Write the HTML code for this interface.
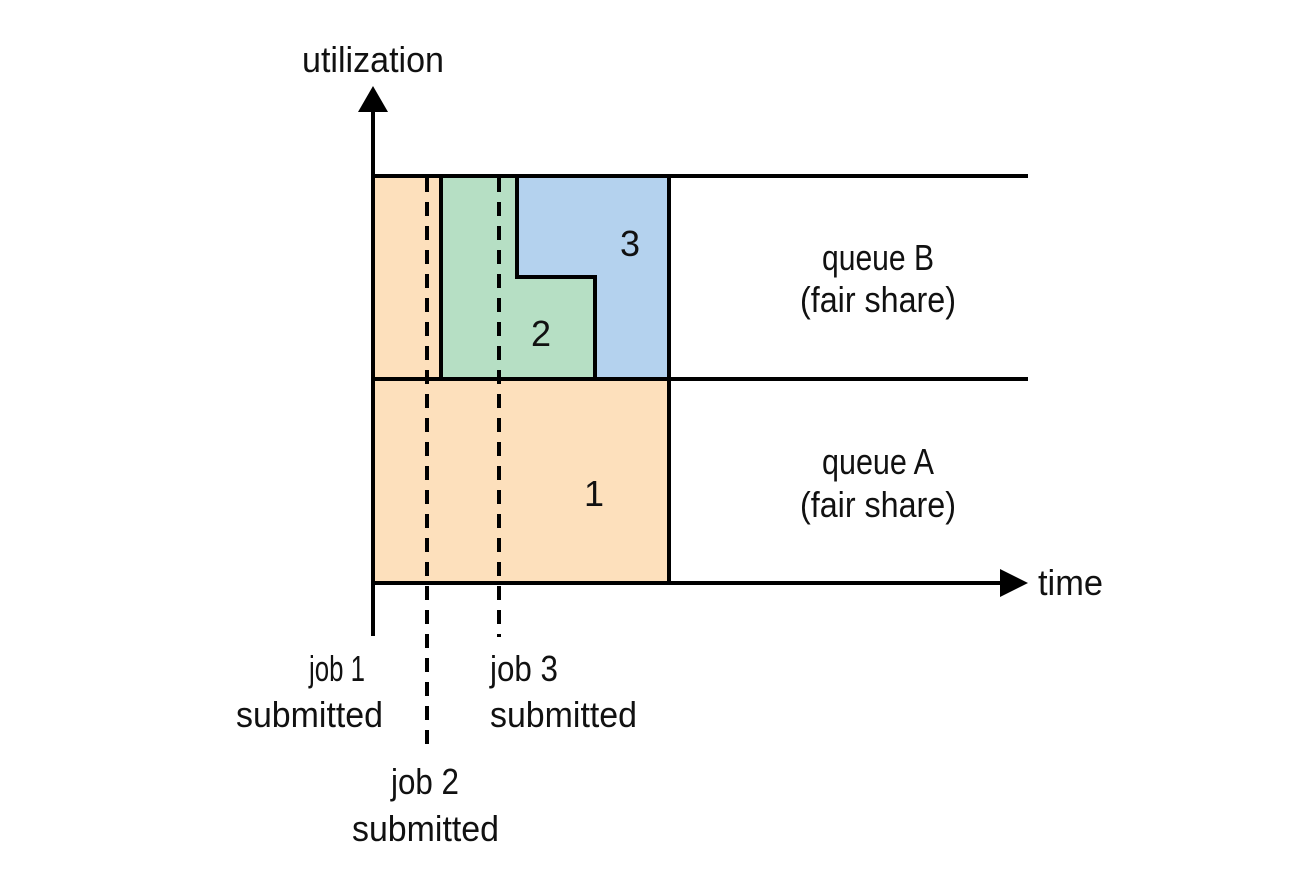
<!DOCTYPE html>
<html><head><meta charset="utf-8"><style>html,body{margin:0;padding:0;background:#fff}</style></head>
<body>
<svg width="1314" height="882" viewBox="0 0 1314 882" xmlns="http://www.w3.org/2000/svg" font-family="'Liberation Sans Narrow','Liberation Sans',sans-serif" font-size="36" fill="#111">
<rect x="373" y="176" width="68" height="203" fill="#fde0bc"/>
<rect x="373" y="379" width="296" height="204" fill="#fde0bc"/>
<polygon points="441,176 517,176 517,277 595,277 595,379 441,379" fill="#b6dfc4"/>
<polygon points="517,176 669,176 669,379 595,379 595,277 517,277" fill="#b4d2ee"/>
<g stroke="#000" stroke-width="4" fill="none">
<line x1="373" y1="176" x2="1028" y2="176"/>
<line x1="373" y1="379" x2="1028" y2="379"/>
<line x1="373" y1="583" x2="1002" y2="583"/>
<line x1="373" y1="110" x2="373" y2="636"/>
<line x1="441" y1="176" x2="441" y2="379"/>
<polyline points="517,176 517,277 595,277 595,379"/>
<line x1="669" y1="176" x2="669" y2="583"/>
<line x1="427" y1="178" x2="427" y2="752" stroke-dasharray="14,10"/>
<line x1="499" y1="178" x2="499" y2="637" stroke-dasharray="14,10"/>
</g>
<polygon points="373,86 358,112 388,112" fill="#000"/>
<polygon points="1028,583 1000,569 1000,597" fill="#000"/>
<text x="302" y="72" textLength="142" lengthAdjust="spacingAndGlyphs">utilization</text>
<text x="1038" y="595" textLength="65" lengthAdjust="spacingAndGlyphs">time</text>
<text x="620" y="256">3</text>
<text x="531" y="346">2</text>
<text x="584" y="506">1</text>
<text x="878" y="270" text-anchor="middle" textLength="112" lengthAdjust="spacingAndGlyphs">queue B</text>
<text x="878" y="312" text-anchor="middle" textLength="156" lengthAdjust="spacingAndGlyphs">(fair share)</text>
<text x="878" y="474" text-anchor="middle" textLength="112" lengthAdjust="spacingAndGlyphs">queue A</text>
<text x="878" y="517" text-anchor="middle" textLength="156" lengthAdjust="spacingAndGlyphs">(fair share)</text>
<text x="309" y="681" textLength="56" lengthAdjust="spacingAndGlyphs">job 1</text>
<text x="236" y="727" textLength="147" lengthAdjust="spacingAndGlyphs">submitted</text>
<text x="490" y="681" textLength="68" lengthAdjust="spacingAndGlyphs">job 3</text>
<text x="490" y="727" textLength="147" lengthAdjust="spacingAndGlyphs">submitted</text>
<text x="391" y="794" textLength="68" lengthAdjust="spacingAndGlyphs">job 2</text>
<text x="352" y="841" textLength="147" lengthAdjust="spacingAndGlyphs">submitted</text>
</svg>
</body></html>
